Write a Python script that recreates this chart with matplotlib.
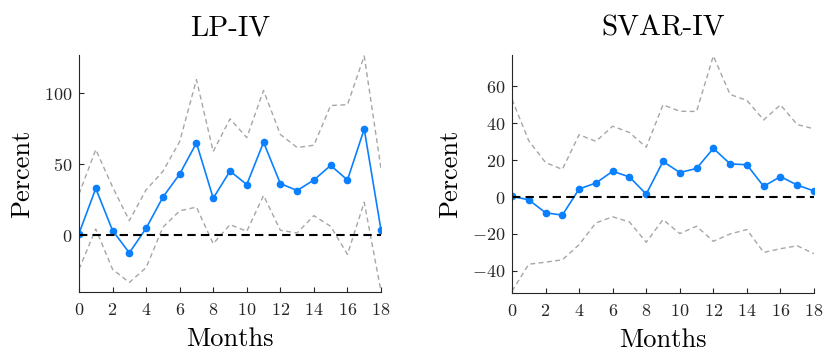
import numpy as np
import matplotlib
matplotlib.use("Agg")
import matplotlib.pyplot as plt

plt.rcParams['font.family'] = 'serif'
plt.rcParams['font.serif'] = ['cmr10', 'DejaVu Serif']
plt.rcParams['mathtext.fontset'] = 'cm'
plt.rcParams['axes.unicode_minus'] = False
plt.rcParams['axes.formatter.use_mathtext'] = True

months = np.arange(0, 19)

# LP-IV
lp_irf = [1.2, 33, 3.3, -12.4, 4.9, 26.8, 43.1, 65, 26.1, 45.2, 35.7, 65.5,
          36.4, 31.5, 38.9, 49.2, 38.9, 74.8, 3.7]
lp_upper = [29, 60.4, 34, 10.3, 32, 45, 66, 109.6, 59, 82, 68.8, 102,
            71, 61.8, 63.4, 91.4, 92, 126.3, 47]
lp_lower = [-24, 4.4, -24, -33.3, -22.8, 5.6, 17.2, 19.8, -6, 7.5, 2.8, 28,
            3.5, 1.6, 13.8, 6.3, -13.5, 23.3, -39.6]

# SVAR-IV
svar_irf = [0.4, -1.5, -8.5, -9.8, 4.4, 7.6, 14, 10.9, 1.6, 19.3, 13.3, 15.5,
            26.4, 18, 17.5, 5.8, 11.1, 6.5, 3.3]
svar_upper = [53, 30.5, 18.7, 15, 33.8, 30.2, 38.4, 35, 27, 50, 46.5, 46.4,
              76.5, 55.6, 52.4, 41.8, 50, 39.3, 37]
svar_lower = [-51, -36.4, -35.3, -34, -25.8, -14, -10.7, -13.5, -24.5, -12.2,
              -19.8, -15.8, -24, -20, -17.6, -30, -28, -26.4, -30.7]

blue = '#0a80ff'
grey = '#a6a6a6'
txt = '#262626'

fig = plt.figure(figsize=(8.24, 3.56), dpi=100)
ax1 = fig.add_axes([79/824, 1 - 292/356, 302/824, 237/356])
ax2 = fig.add_axes([512/824, 1 - 293/356, 302/824, 238/356])


def panel(ax, irf, lo, hi, title, ylim, yticks):
    ax.plot(months, hi, '--', color=grey, lw=1, dashes=(3.5, 2.5))
    ax.plot(months, lo, '--', color=grey, lw=1, dashes=(3.5, 2.5))
    ax.plot(months, irf, '-o', color=blue, lw=1.2, ms=4.5)
    ax.axhline(0, color='black', ls='--', lw=1.5, dashes=(4, 2.5))
    ax.set_xlim(0, 18)
    ax.set_ylim(*ylim)
    ax.set_xticks(range(0, 19, 2))
    ax.set_yticks(yticks)
    ax.tick_params(direction='in', length=3.5, labelsize=13, colors=txt,
                   labelcolor=txt, width=0.8)
    ax.tick_params(axis='x', pad=7)
    ax.tick_params(axis='y', pad=5)
    for s in ['top', 'right']:
        ax.spines[s].set_visible(False)
    for s in ['left', 'bottom']:
        ax.spines[s].set_color(txt)
        ax.spines[s].set_linewidth(0.8)
    ax.set_title(title, fontsize=21, pad=14)
    ax.set_xlabel('Months', fontsize=19, labelpad=7)
    ax.set_ylabel('Percent', fontsize=19, labelpad=7)


panel(ax1, lp_irf, lp_lower, lp_upper, 'LP-IV', (-40, 127), [0, 50, 100])
panel(ax2, svar_irf, svar_lower, svar_upper, 'SVAR-IV', (-52, 77),
      [-40, -20, 0, 20, 40, 60])

fig.savefig('out.png', dpi=100)
